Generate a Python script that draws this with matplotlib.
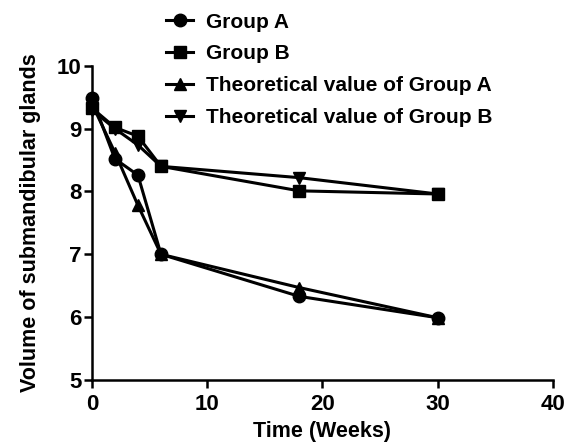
import matplotlib
matplotlib.use('Agg')
import matplotlib.pyplot as plt

plt.rcParams['font.family'] = ['Liberation Sans', 'DejaVu Sans']
plt.rcParams['font.weight'] = 'bold'

weeks = [0, 2, 4, 6, 18, 30]
group_a = [9.49, 8.52, 8.26, 7.0, 6.33, 5.99]
group_b = [9.33, 9.02, 8.88, 8.4, 8.01, 7.96]
theo_a = [9.4, 8.62, 7.78, 7.0, 6.47, 5.99]
theo_b = [9.3, 9.0, 8.74, 8.4, 8.22, 7.96]

series = [
    ('Group A', group_a, 'o'),
    ('Group B', group_b, 's'),
    ('Theoretical value of Group A', theo_a, '^'),
    ('Theoretical value of Group B', theo_b, 'v'),
]

fig = plt.figure(figsize=(5.74, 4.48), dpi=100)
ax = fig.add_axes([0.160, 0.152, 0.803, 0.701])

for label, vals, mk in series:
    ax.plot(weeks, vals, color='black', marker=mk, markersize=9,
            linewidth=2.2, label=label, clip_on=False)

ax.set_xlim(0, 40)
ax.set_ylim(5, 10)
ax.set_xticks([0, 10, 20, 30, 40])
ax.set_yticks([5, 6, 7, 8, 9, 10])

for s in ['top', 'right']:
    ax.spines[s].set_visible(False)
for s in ['left', 'bottom']:
    ax.spines[s].set_linewidth(1.8)
ax.tick_params(direction='out', length=5.5, width=1.8, labelsize=16)
ax.tick_params(axis='x', pad=5)
ax.tick_params(axis='y', pad=2)

ax.set_xlabel('Time (Weeks)', fontsize=15.5, fontweight='bold', labelpad=4)
ax.set_ylabel('Volume of submandibular glands', fontsize=15.5,
              fontweight='bold', labelpad=11)

fig.legend(loc='upper left', bbox_to_anchor=(0.268, 1.0), frameon=False,
           fontsize=15, handlelength=1.3, labelspacing=0.62, handletextpad=0.6,
           borderaxespad=0.2)

fig.savefig('out.png', dpi=100)
